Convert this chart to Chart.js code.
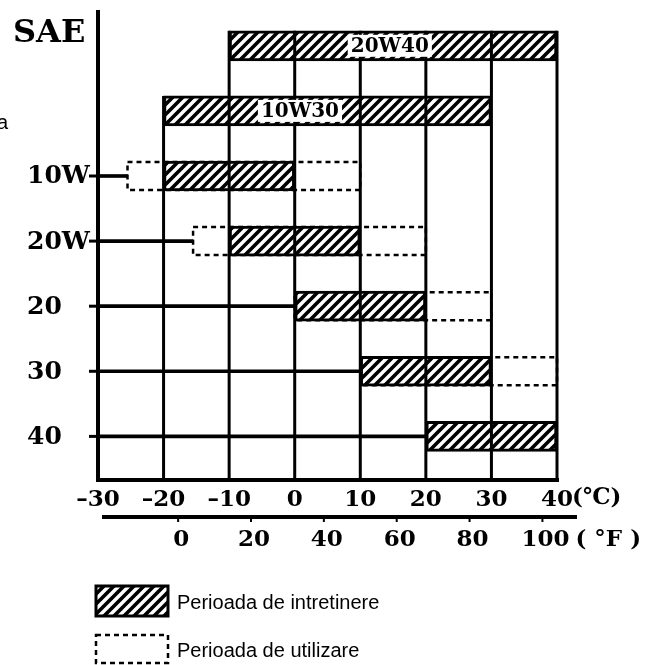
<!DOCTYPE html>
<html>
<head>
<meta charset="utf-8">
<script src="https://cdn.jsdelivr.net/npm/chart.js@4.4.1/dist/chart.umd.min.js"></script>
<style>
  html, body { margin: 0; padding: 0; background: #fff; }
  canvas { display: block; }
</style>
</head>
<body>
<canvas id="oilChart" width="659" height="665"></canvas>
<script>
// SAE grades, top to bottom
const grades = ['20W40', '10W30', '10W', '20W', '20', '30', '40'];
const axisLabels = ['', '', '10W', '20W', '20', '30', '40'];
// hatched band: maintenance period (°C)
const maintFrom = [-10, -20, -20, -10, 0, 10, 20];
const maintTo = [40, 30, 0, 10, 20, 30, 40];
// dashed band: usable range (°C)
const useFrom = [null, null, -25.5, -15.5, 0, 10, null];
const useTo = [null, null, 10, 20, 30, 40, null];
// text written inside the two wide bands
const bandText = ['20W40', '10W30'];
const bandTextAt = [14.5, 0.8];

const celsiusTicks = [-30, -20, -10, 0, 10, 20, 30, 40];
const fahrenheitTicks = [0, 20, 40, 60, 80, 100];
const legendText = ['Perioada de intretinere', 'Perioada de utilizare'];

const BAR = 30;
const cToF = c => c * 9 / 5 + 32;

function makeHatch() {
  const c = document.createElement('canvas');
  c.width = 10; c.height = 10;
  const g = c.getContext('2d');
  g.fillStyle = '#fff';
  g.fillRect(0, 0, 10, 10);
  g.strokeStyle = '#000';
  g.lineWidth = 3.6;
  g.beginPath();
  g.moveTo(-2, 12); g.lineTo(12, -2);
  g.moveTo(-7, 7); g.lineTo(7, -7);
  g.moveTo(3, 17); g.lineTo(17, 3);
  g.stroke();
  return g.createPattern(c, 'repeat');
}
const hatch = makeHatch();

// rows that have an axis tick get a line from the axis to their first box
const connectors = grades.map((g, i) => {
  if (!axisLabels[i]) return null;
  const start = useFrom[i] !== null ? Math.min(useFrom[i], maintFrom[i]) : maintFrom[i];
  return { y: i, x: [celsiusTicks[0], start] };
}).filter(d => d);

const sketch = {
  id: 'sketch',
  beforeDatasetsDraw(chart) {
    const ctx = chart.ctx;
    const meta = chart.getDatasetMeta(1);
    ctx.save();
    ctx.strokeStyle = '#000';
    ctx.lineWidth = 2.5;
    ctx.setLineDash([5, 4]);
    meta.data.forEach(el => {
      const { x, y, base, height } = el.getProps(['x', 'y', 'base', 'height'], true);
      ctx.strokeRect(Math.min(base, x), y - height / 2 + 1, Math.abs(x - base), height - 2);
    });
    ctx.restore();
  },
  afterDatasetsDraw(chart) {
    const ctx = chart.ctx;
    const a = chart.chartArea;
    const { x, y, f } = chart.scales;
    const line = (x1, y1, x2, y2) => { ctx.beginPath(); ctx.moveTo(x1, y1); ctx.lineTo(x2, y2); ctx.stroke(); };
    ctx.save();
    ctx.strokeStyle = '#000';
    ctx.fillStyle = '#000';

    // vertical grid, starting at the first band that covers the value
    ctx.lineWidth = 3;
    celsiusTicks.slice(1).forEach(v => {
      const i = grades.findIndex((g, k) => maintFrom[k] <= v && v <= maintTo[k]);
      const px = x.getPixelForValue(v);
      line(px, y.getPixelForValue(i) - BAR / 2, px, a.bottom);
    });

    // axes
    ctx.lineWidth = 4;
    line(a.left, a.top, a.left, a.bottom + 2);
    line(a.left - 2, a.bottom, a.right + 2, a.bottom);

    // band text
    ctx.font = 'bold 20px "DejaVu Serif"';
    ctx.textAlign = 'center';
    ctx.textBaseline = 'middle';
    bandText.forEach((t, i) => {
      const px = x.getPixelForValue(bandTextAt[i]);
      const py = y.getPixelForValue(i);
      const w = ctx.measureText(t).width;
      ctx.fillStyle = '#fff';
      ctx.fillRect(px - w / 2 - 3, py - 11, w + 6, 22);
      ctx.fillStyle = '#000';
      ctx.fillText(t, px, py + 1);
    });

    // y labels and ticks
    ctx.lineWidth = 3;
    ctx.textAlign = 'left';
    ctx.font = 'bold 25px "DejaVu Serif"';
    axisLabels.forEach((t, i) => {
      if (!t) return;
      const py = y.getPixelForValue(i);
      line(a.left - 9, py, a.left, py);
      ctx.fillText(t, 27, py + 1);
    });
    ctx.font = 'bold 32px "DejaVu Serif"';
    ctx.fillText('SAE', 13, 34);

    // °C labels
    ctx.font = 'bold 23px "DejaVu Serif"';
    ctx.textAlign = 'center';
    const cy = a.bottom + 20;
    celsiusTicks.forEach((v, i) => {
      const px = x.getPixelForValue(v);
      const t = v < 0 ? '–' + (-v) : String(v);
      ctx.fillText(t, px, cy);
      if (i === celsiusTicks.length - 1) {
        ctx.textAlign = 'left';
        ctx.fillText('(℃)', px + ctx.measureText(t).width / 2 - 1, cy - 2);
        ctx.textAlign = 'center';
      }
    });

    // °F axis
    const fy = a.bottom + 37;
    ctx.lineWidth = 4;
    line(a.left + 4, fy, a.right + 20, fy);
    ctx.lineWidth = 2;
    const ly = a.bottom + 60;
    fahrenheitTicks.forEach((v, i) => {
      const px = f.getPixelForValue(v);
      line(px, fy, px, fy + 5);
      const t = String(v);
      ctx.fillText(t, px + 3, ly);
      if (i === fahrenheitTicks.length - 1) {
        ctx.textAlign = 'left';
        ctx.fillText('( °F )', px + 3 + ctx.measureText(t).width / 2 + 6, ly);
        ctx.textAlign = 'center';
      }
    });

    // stray letter at the left margin
    ctx.textAlign = 'left';
    ctx.font = '20px "Liberation Sans"';
    ctx.fillText('a', -3, 123);

    // legend
    ctx.fillStyle = hatch;
    ctx.fillRect(96, 586, 72, 30);
    ctx.lineWidth = 3;
    ctx.strokeRect(96, 586, 72, 30);
    ctx.lineWidth = 2.5;
    ctx.setLineDash([5, 4]);
    ctx.strokeRect(96, 635, 72, 28);
    ctx.setLineDash([]);
    ctx.fillStyle = '#000';
    ctx.font = '20px "Liberation Sans"';
    ctx.fillText(legendText[0], 177, 603);
    ctx.fillText(legendText[1], 177, 651);

    ctx.restore();
  }
};

new Chart(document.getElementById('oilChart'), {
  type: 'bar',
  data: {
    datasets: [
      {
        label: legendText[0],
        data: grades.map((g, i) => ({ y: i, x: [maintFrom[i], maintTo[i]] })),
        backgroundColor: hatch,
        borderColor: '#000',
        borderWidth: 3,
        borderSkipped: false,
        barThickness: BAR,
        grouped: false,
        xAxisID: 'x', yAxisID: 'y'
      },
      {
        label: legendText[1],
        data: grades.map((g, i) => useFrom[i] === null ? null : { y: i, x: [useFrom[i], useTo[i]] }).filter(d => d),
        backgroundColor: 'rgba(0,0,0,0)',
        borderWidth: 0,
        barThickness: BAR,
        grouped: false,
        xAxisID: 'x', yAxisID: 'y'
      },
      {
        label: 'axis',
        data: connectors,
        backgroundColor: '#000',
        borderWidth: 0,
        barThickness: 3,
        grouped: false,
        xAxisID: 'x', yAxisID: 'y'
      }
    ]
  },
  options: {
    responsive: false,
    animation: false,
    indexAxis: 'y',
    layout: { padding: { left: 98, right: 102, top: 10, bottom: 185 } },
    plugins: { legend: { display: false }, tooltip: { enabled: false } },
    scales: {
      x: { type: 'linear', min: -30, max: 40, display: false },
      y: { type: 'linear', min: -0.55, max: 6.67, reverse: true, offset: false, display: false },
      f: { type: 'linear', axis: 'x', position: 'bottom', min: cToF(-30), max: cToF(40), display: false }
    }
  },
  plugins: [sketch]
});
</script>
</body>
</html>
